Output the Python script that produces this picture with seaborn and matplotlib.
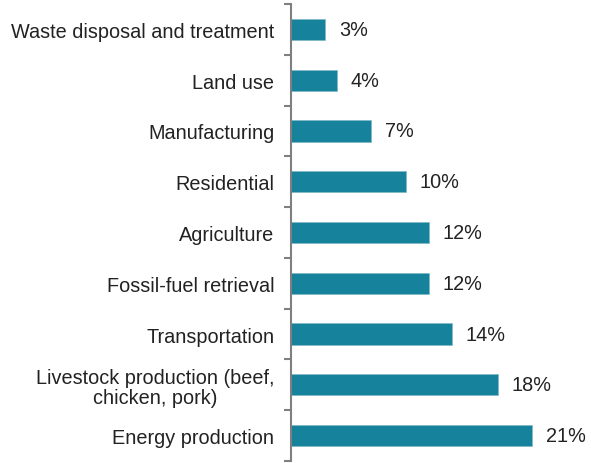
import matplotlib
matplotlib.use("Agg")
import matplotlib.pyplot as plt
import seaborn as sns
import pandas as pd
import numpy as np

categories = [
    "Waste disposal and treatment",
    "Land use",
    "Manufacturing",
    "Residential",
    "Agriculture",
    "Fossil-fuel retrieval",
    "Transportation",
    "Livestock production (beef,\nchicken, pork)",
    "Energy production",
]
shares = [3, 4, 7, 10, 12, 12, 14, 18, 21]

df = pd.DataFrame({"sector": categories, "share": shares})

sns.set_theme(style="white")
plt.rcParams["font.family"] = ["Liberation Sans", "DejaVu Sans"]

fig = plt.figure(figsize=(5.91, 4.64), dpi=100)
ax = fig.add_axes([291 / 591, 2 / 464, 1 - 291 / 591 - 0.002, 457 / 464])

sns.barplot(data=df, x="share", y="sector", orient="h", color="#17829b",
            saturation=1, width=0.42, ax=ax, edgecolor="#7fb8c6", linewidth=0.5)

ax.set_xlim(0, 26)
ax.set_ylim(len(categories) - 0.5, -0.5)
ax.set_xlabel("")
ax.set_ylabel("")
ax.set_xticks([])

for i, v in enumerate(shares):
    ax.text(v + 1.2, i, f"{v}%", va="center", ha="left", fontsize=14.3, color="#222222")

for s in ["top", "right", "bottom"]:
    ax.spines[s].set_visible(False)
ax.spines["left"].set_color("#7f7f7f")
ax.spines["left"].set_linewidth(1.5)

ax.set_yticks(range(len(categories)))
ax.set_yticklabels(categories, fontsize=14.3, color="#222222", multialignment="center",
                   linespacing=1.05)
ax.tick_params(axis="y", which="major", left=False, length=0, pad=12)
ax.set_yticks(np.arange(-0.5, len(categories), 1), minor=True)
ax.tick_params(axis="y", which="minor", left=True, length=5, width=1.5,
               color="#7f7f7f", direction="out")

fig.savefig("out.png", dpi=100)
